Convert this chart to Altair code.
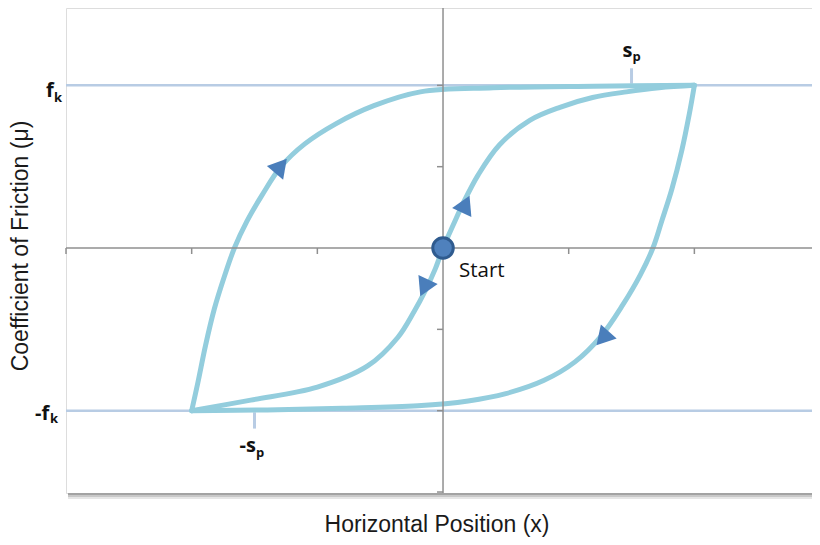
import altair as alt
import pandas as pd

# ---- curve data (x = horizontal position, y = friction coefficient) ----
inner_x = [-2.0, -1.53, -1.0, -0.60, -0.36, -0.23, -0.14, -0.06, 0.0, 0.08, 0.16, 0.28, 0.45, 0.69, 0.93, 1.19, 1.46, 1.72, 2.0]
inner_y = [-2.0, -1.87, -1.71, -1.45, -1.10, -0.78, -0.52, -0.25, 0.0, 0.28, 0.55, 0.90, 1.27, 1.57, 1.73, 1.85, 1.92, 1.97, 2.0]

rise_x = [-2.0, -1.95, -1.89, -1.82, -1.74, -1.66, -1.56, -1.44, -1.29, -1.10, -0.85, -0.55, -0.18, 0.40, 1.20, 2.0]
rise_y = [-2.0, -1.65, -1.20, -0.75, -0.35, 0.0, 0.33, 0.65, 1.00, 1.28, 1.53, 1.75, 1.92, 1.97, 1.99, 2.0]

fall_x = [2.0, 1.96, 1.90, 1.82, 1.74, 1.67, 1.57, 1.43, 1.26, 1.05, 0.80, 0.50, 0.20, -0.20, -0.80, -1.40, -2.0]
fall_y = [2.0, 1.65, 1.20, 0.72, 0.33, 0.0, -0.33, -0.70, -1.08, -1.40, -1.63, -1.79, -1.88, -1.94, -1.97, -1.99, -2.0]

fk_levels = [2.0, -2.0]
sp_positions = [1.5, -1.5]
sp_tick_ends = [2.21, -2.22]
x_ticks = [-3, -2, -1, 1, 2]
y_ticks = [-3, -2, -1, 1, 2]

arrow_x = [-1.29, 0.18, -0.15, 1.27]
arrow_y = [1.01, 0.54, -0.49, -1.11]
arrow_angle = [40, 25, 205, 222]

start_x = [0.0]
start_y = [0.0]

# ---- tables ----
rows = []
for name, xs, ys in [("inner", inner_x, inner_y), ("rise", rise_x, rise_y), ("fall", fall_x, fall_y)]:
    for i, (a, b) in enumerate(zip(xs, ys)):
        rows.append({"series": name, "i": i, "x": a, "y": b})
curves_df = pd.DataFrame(rows)

X = alt.Scale(domain=[-3, 2.936], nice=False, zero=False)
Y = alt.Scale(domain=[-3.012, 2.951], nice=False, zero=False)

AXIS_COLOR = "#8f8f8f"
LINE_COLOR = "#93cddd"
REF_COLOR = "#b8cce4"

fk_lines = alt.Chart(pd.DataFrame({"y": fk_levels})).mark_rule(
    color=REF_COLOR, strokeWidth=2.5
).encode(y=alt.Y("y:Q", scale=Y, axis=None))

sp_ticks = alt.Chart(pd.DataFrame({
    "x": sp_positions, "y": [2.02, -2.02], "y2": sp_tick_ends
})).mark_rule(color=REF_COLOR, strokeWidth=3).encode(
    x=alt.X("x:Q", scale=X, axis=None),
    y=alt.Y("y:Q", scale=Y, axis=None),
    y2="y2:Q",
)

x_axis_line = alt.Chart(pd.DataFrame({"y": [0.0]})).mark_rule(
    color=AXIS_COLOR, strokeWidth=1.5
).encode(y=alt.Y("y:Q", scale=Y, axis=None))

y_axis_line = alt.Chart(pd.DataFrame({"x": [0.0]})).mark_rule(
    color=AXIS_COLOR, strokeWidth=1.5
).encode(x=alt.X("x:Q", scale=X, axis=None))

x_tick_marks = alt.Chart(pd.DataFrame({"x": x_ticks, "y": [0.0] * len(x_ticks)})).mark_tick(
    orient="vertical", size=6, thickness=1.5, color=AXIS_COLOR, yOffset=3, opacity=1
).encode(x=alt.X("x:Q", scale=X, axis=None), y=alt.Y("y:Q", scale=Y, axis=None))

y_tick_marks = alt.Chart(pd.DataFrame({"y": y_ticks, "x": [0.0] * len(y_ticks)})).mark_tick(
    orient="horizontal", size=6, thickness=1.5, color=AXIS_COLOR, xOffset=-3, opacity=1
).encode(x=alt.X("x:Q", scale=X, axis=None), y=alt.Y("y:Q", scale=Y, axis=None))

curves = alt.Chart(curves_df).mark_line(
    color=LINE_COLOR, strokeWidth=5, interpolate="catmull-rom", strokeCap="round", strokeJoin="round"
).encode(
    x=alt.X("x:Q", scale=X, axis=None),
    y=alt.Y("y:Q", scale=Y, axis=None),
    detail="series:N",
    order="i:Q",
)

arrows = alt.Chart(pd.DataFrame({"x": arrow_x, "y": arrow_y, "a": arrow_angle})).mark_point(
    shape="triangle-up", filled=True, size=450, color="#4a7ebb", opacity=1
).encode(
    x=alt.X("x:Q", scale=X, axis=None),
    y=alt.Y("y:Q", scale=Y, axis=None),
    angle=alt.Angle("a:Q", scale=None),
)

start = alt.Chart(pd.DataFrame({"x": start_x, "y": start_y})).mark_point(
    shape="circle", filled=True, size=420, fill="#4f81bd", stroke="#2f5b8f", strokeWidth=3, opacity=1
).encode(x=alt.X("x:Q", scale=X, axis=None), y=alt.Y("y:Q", scale=Y, axis=None))


def label(txt, x, y, dx, dy, size, weight="bold", font="Open Sans"):
    return alt.Chart(pd.DataFrame({"x": [x], "y": [y], "t": [txt]})).mark_text(
        align="left", baseline="alphabetic", dx=dx, dy=dy, fontSize=size,
        fontWeight=weight, font=font, color="#111111"
    ).encode(x=alt.X("x:Q", scale=X, axis=None), y=alt.Y("y:Q", scale=Y, axis=None), text="t:N")


labels = [
    label("f", -3, 2, -20, 12, 20),
    label("k", -3, 2, -12, 17, 13),
    label("-f", -3, -2, -31, 9, 20),
    label("k", -3, -2, -16, 12, 13),
    label("s", 1.5, 2, -9, -28, 20),
    label("p", 1.5, 2, 1, -24, 13),
    label("-s", -1.5, -2, -15, 41, 20),
    label("p", -1.5, -2, 1.5, 46, 13),
    label("Start", 0, 0, 16, 29, 20.5, weight="normal"),
]

x_title = alt.Chart(pd.DataFrame({"t": ["Horizontal Position (x)"]})).mark_text(
    align="center", baseline="alphabetic", fontSize=23, font="Liberation Sans", color="#1a1a1a"
).encode(x=alt.value(371), y=alt.value(524), text="t:N")

y_title = alt.Chart(pd.DataFrame({"t": ["Coefficient of Friction (μ)"]})).mark_text(
    align="center", baseline="middle", fontSize=23, font="Liberation Sans", color="#1a1a1a", angle=270
).encode(x=alt.value(-45), y=alt.value(238), text="t:N")

shadow_df = pd.DataFrame({"k": [0]})
shadow = [
    alt.Chart(shadow_df).mark_rect(color=c, opacity=1).encode(
        x=alt.value(2), x2=alt.value(746), y=alt.value(y0), y2=alt.value(y0 + 2)
    )
    for c, y0 in [("#a3a3a3", 485), ("#c8c8c8", 487), ("#e6e6e6", 489)]
]

chart = alt.layer(
    *shadow, fk_lines, sp_ticks, curves, x_axis_line, y_axis_line, x_tick_marks, y_tick_marks,
    arrows, start, *labels, x_title, y_title
).properties(
    width=746, height=485,
    autosize=alt.AutoSizeParams(type="none"),
    padding={"left": 58, "top": 0, "right": 0, "bottom": 44},
).configure_view(fill="#e8eef2", strokeOpacity=0).configure(background="white")

chart.save("out.html", embed_options={"renderer": "svg", "actions": False})
